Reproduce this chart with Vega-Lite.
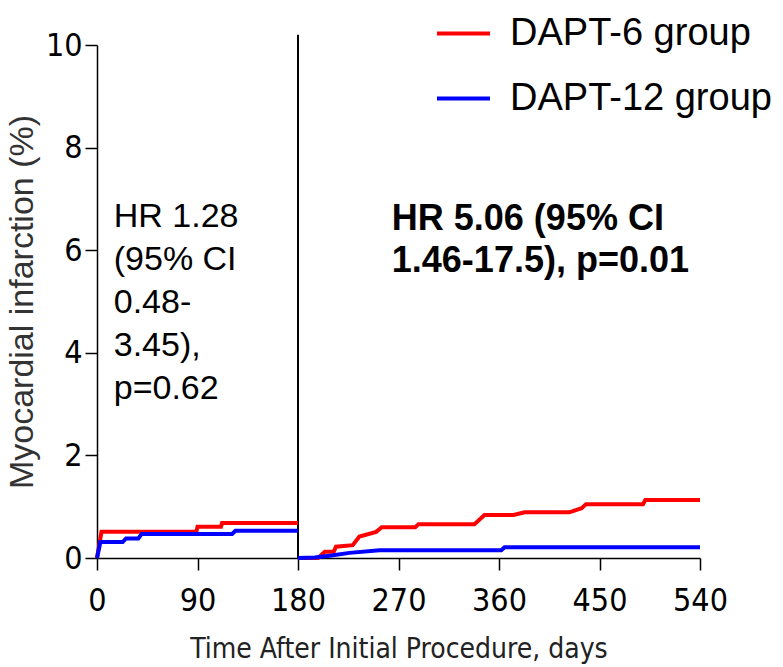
{
  "$schema": "https://vega.github.io/schema/vega-lite/v6.json",
  "width": 603,
  "height": 513,
  "autosize": {"type": "none"},
  "padding": {"left": 97, "top": 45, "right": 83, "bottom": 109},
  "background": "white",
  "config": {
    "view": {"stroke": null},
    "axis": {
      "grid": false,
      "domainColor": "#000000",
      "domainWidth": 1.5,
      "tickColor": "#000000",
      "tickWidth": 1.5,
      "tickSize": 12,
      "labelFlush": false,
      "labelColor": "#000000",
      "labelFont": "DejaVu Sans Condensed, Liberation Sans Narrow, Liberation Sans, sans-serif",
      "labelFontSize": 32,
      "titleFont": "DejaVu Sans Condensed, Liberation Sans Narrow, Liberation Sans, sans-serif",
      "titleFontSize": 28,
      "titleFontWeight": "normal",
      "titleColor": "#222222"
    }
  },
  "datasets": {
    "curves": [
      {"day": 0, "pct": 0, "group": "DAPT-6 group", "seg": "early"},
      {"day": 4, "pct": 0.51, "group": "DAPT-6 group", "seg": "early"},
      {"day": 89, "pct": 0.51, "group": "DAPT-6 group", "seg": "early"},
      {"day": 90, "pct": 0.61, "group": "DAPT-6 group", "seg": "early"},
      {"day": 111, "pct": 0.61, "group": "DAPT-6 group", "seg": "early"},
      {"day": 112, "pct": 0.68, "group": "DAPT-6 group", "seg": "early"},
      {"day": 180, "pct": 0.68, "group": "DAPT-6 group", "seg": "early"},
      {"day": 0, "pct": 0, "group": "DAPT-12 group", "seg": "early"},
      {"day": 3, "pct": 0.31, "group": "DAPT-12 group", "seg": "early"},
      {"day": 23, "pct": 0.31, "group": "DAPT-12 group", "seg": "early"},
      {"day": 26, "pct": 0.38, "group": "DAPT-12 group", "seg": "early"},
      {"day": 37, "pct": 0.38, "group": "DAPT-12 group", "seg": "early"},
      {"day": 40, "pct": 0.47, "group": "DAPT-12 group", "seg": "early"},
      {"day": 121, "pct": 0.47, "group": "DAPT-12 group", "seg": "early"},
      {"day": 124, "pct": 0.53, "group": "DAPT-12 group", "seg": "early"},
      {"day": 180, "pct": 0.53, "group": "DAPT-12 group", "seg": "early"},
      {"day": 180, "pct": 0, "group": "DAPT-6 group", "seg": "late"},
      {"day": 198, "pct": 0, "group": "DAPT-6 group", "seg": "late"},
      {"day": 204, "pct": 0.12, "group": "DAPT-6 group", "seg": "late"},
      {"day": 212, "pct": 0.12, "group": "DAPT-6 group", "seg": "late"},
      {"day": 214, "pct": 0.22, "group": "DAPT-6 group", "seg": "late"},
      {"day": 229, "pct": 0.25, "group": "DAPT-6 group", "seg": "late"},
      {"day": 235, "pct": 0.42, "group": "DAPT-6 group", "seg": "late"},
      {"day": 250, "pct": 0.51, "group": "DAPT-6 group", "seg": "late"},
      {"day": 255, "pct": 0.6, "group": "DAPT-6 group", "seg": "late"},
      {"day": 285, "pct": 0.6, "group": "DAPT-6 group", "seg": "late"},
      {"day": 288, "pct": 0.66, "group": "DAPT-6 group", "seg": "late"},
      {"day": 338, "pct": 0.66, "group": "DAPT-6 group", "seg": "late"},
      {"day": 347, "pct": 0.84, "group": "DAPT-6 group", "seg": "late"},
      {"day": 373, "pct": 0.84, "group": "DAPT-6 group", "seg": "late"},
      {"day": 383, "pct": 0.89, "group": "DAPT-6 group", "seg": "late"},
      {"day": 423, "pct": 0.89, "group": "DAPT-6 group", "seg": "late"},
      {"day": 434, "pct": 0.97, "group": "DAPT-6 group", "seg": "late"},
      {"day": 438, "pct": 1.05, "group": "DAPT-6 group", "seg": "late"},
      {"day": 489, "pct": 1.05, "group": "DAPT-6 group", "seg": "late"},
      {"day": 491, "pct": 1.13, "group": "DAPT-6 group", "seg": "late"},
      {"day": 540, "pct": 1.13, "group": "DAPT-6 group", "seg": "late"},
      {"day": 180, "pct": 0, "group": "DAPT-12 group", "seg": "late"},
      {"day": 195, "pct": 0.01, "group": "DAPT-12 group", "seg": "late"},
      {"day": 210, "pct": 0.05, "group": "DAPT-12 group", "seg": "late"},
      {"day": 226, "pct": 0.1, "group": "DAPT-12 group", "seg": "late"},
      {"day": 253, "pct": 0.15, "group": "DAPT-12 group", "seg": "late"},
      {"day": 362, "pct": 0.15, "group": "DAPT-12 group", "seg": "late"},
      {"day": 365, "pct": 0.21, "group": "DAPT-12 group", "seg": "late"},
      {"day": 540, "pct": 0.21, "group": "DAPT-12 group", "seg": "late"}
    ]
  },
  "layer": [
    {
      "data": {"values": [{"day": 180, "lo": 0, "hi": 10.2}]},
      "mark": {"type": "rule", "color": "#000000", "strokeWidth": 2},
      "encoding": {
        "x": {"field": "day", "type": "quantitative", "scale": {"domain": [0, 540], "nice": false}},
        "y": {"field": "lo", "type": "quantitative", "scale": {"domain": [0, 10], "nice": false}},
        "y2": {"field": "hi"}
      }
    },
    {
      "data": {"name": "curves"},
      "mark": {"type": "line", "strokeWidth": 4, "interpolate": "linear"},
      "encoding": {
        "x": {
          "field": "day", "type": "quantitative",
          "scale": {"domain": [0, 540], "nice": false},
          "axis": {"values": [0, 90, 180, 270, 360, 450, 540], "title": "Time After Initial Procedure, days", "labelPadding": 15, "titlePadding": 19}
        },
        "y": {
          "field": "pct", "type": "quantitative",
          "scale": {"domain": [0, 10], "nice": false},
          "axis": {"values": [0, 2, 4, 6, 8, 10], "title": "Myocardial infarction (%)", "labelPadding": 3, "titlePadding": 6, "titleFont": "Liberation Sans, Arial, sans-serif", "titleFontSize": 34, "titleColor": "#333333"}
        },
        "color": {
          "field": "group", "type": "nominal",
          "scale": {"domain": ["DAPT-6 group", "DAPT-12 group"], "range": ["#ff0000", "#0000ff"]},
          "legend": {
            "title": null,
            "orient": "none",
            "legendX": 338,
            "legendY": -40,
            "padding": 0,
            "symbolType": "stroke",
            "symbolSize": 2809,
            "symbolStrokeWidth": 4,
            "labelFont": "Liberation Sans, Arial, sans-serif",
            "labelFontSize": 38,
            "labelColor": "#000000",
            "labelOffset": 18,
            "rowPadding": 17,
            "labelLimit": 400
          }
        },
        "detail": {"field": "seg", "type": "nominal"}
      }
    },
    {
      "data": {"values": [{"day": 15, "pct": 6.45, "label": "HR 1.28\n(95% CI\n0.48-\n3.45),\np=0.62"}]},
      "mark": {"type": "text", "align": "left", "baseline": "alphabetic", "font": "Liberation Sans, Arial, sans-serif", "fontSize": 34, "lineHeight": 43, "lineBreak": "\n", "color": "#000000"},
      "encoding": {
        "x": {"field": "day", "type": "quantitative"},
        "y": {"field": "pct", "type": "quantitative"},
        "text": {"field": "label", "type": "nominal"}
      }
    },
    {
      "data": {"values": [{"day": 264, "pct": 6.4, "label": "HR 5.06 (95% CI\n1.46-17.5), p=0.01"}]},
      "mark": {"type": "text", "align": "left", "baseline": "alphabetic", "font": "Liberation Sans, Arial, sans-serif", "fontSize": 36, "fontWeight": "bold", "lineHeight": 42, "lineBreak": "\n", "color": "#000000"},
      "encoding": {
        "x": {"field": "day", "type": "quantitative"},
        "y": {"field": "pct", "type": "quantitative"},
        "text": {"field": "label", "type": "nominal"}
      }
    }
  ]
}
